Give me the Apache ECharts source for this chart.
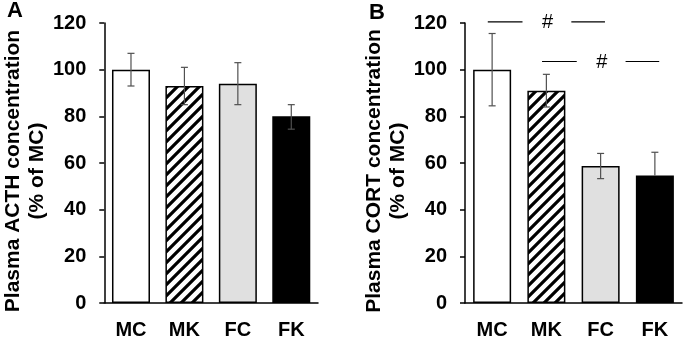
<!DOCTYPE html>
<html><head><meta charset="utf-8">
<script src="https://cdn.jsdelivr.net/npm/echarts@6/dist/echarts.min.js"></script>
<style>html,body{margin:0;padding:0;background:#fff}#c{width:685px;height:340px}</style>
</head><body><div id="c"></div><script>
// ---- data ----
const categories = ['MC', 'MK', 'FC', 'FK'];
const acthMean = [100, 93, 94, 80];
const acthErrUp = [7, 8, 9, 5];
const acthErrDown = [7, 8, 9, 5.5];
const cortMean = [100, 91, 58.7, 54.6];
const cortErrUp = [15.5, 7, 5.4, 10];
const cortErrDown = [15.5, 7, 5.4, 0];
const yTicks = [0, 20, 40, 60, 80, 100, 120];
const acthTitle = 'Plasma ACTH concentration\n(% of MC)';
const cortTitle = 'Plasma CORT concentration\n(% of MC)';
const panelLetters = ['A', 'B'];
const sigFrom = [0, 1];
const sigTo = [2, 3];
const sigLevel = [120.5, 103.5];
const sigLabel = ['#', '#'];

// ---- styles ----
const FONT = '"Liberation Sans", Arial, sans-serif';
function hatchCanvas() {
  const n = 11;
  const c = document.createElement('canvas');
  c.width = n; c.height = n;
  const g = c.getContext('2d');
  g.fillStyle = '#fff'; g.fillRect(0, 0, n, n);
  g.strokeStyle = '#000'; g.lineWidth = 3.2;
  g.beginPath();
  g.moveTo(-1, n + 1); g.lineTo(n + 1, -1);
  g.moveTo(-n / 2 - 1, n / 2 + 1); g.lineTo(n / 2 + 1, -n / 2 - 1);
  g.moveTo(n / 2 - 1, 1.5 * n + 1); g.lineTo(1.5 * n + 1, n / 2 - 1);
  g.stroke();
  return c;
}
const barFills = ['#ffffff', { image: hatchCanvas(), repeat: 'repeat' }, '#e0e0e0', '#000000'];

function barSeries(idx, values) {
  return {
    type: 'bar', xAxisIndex: idx, yAxisIndex: idx, barWidth: 38,
    data: values.map((v, i) => ({
      value: v,
      itemStyle: { color: barFills[i], borderColor: '#000', borderWidth: 1.5 }
    })),
    z: 2
  };
}
function errSeries(idx, mean, up, down) {
  return {
    type: 'custom', xAxisIndex: idx, yAxisIndex: idx, z: 5,
    data: mean.map((m, i) => [i, m - down[i], m + up[i], m]),
    renderItem(params, api) {
      const x = api.value(0);
      const lo = api.coord([x, api.value(1)]);
      const hi = api.coord([x, api.value(2)]);
      const mid = api.coord([x, api.value(3)]);
      const w = 3.5;
      const st = { stroke: '#505050', lineWidth: 1.2 };
      const ch = [
        { type: 'line', shape: { x1: hi[0], y1: hi[1], x2: mid[0], y2: mid[1] }, style: st },
        { type: 'line', shape: { x1: hi[0] - w, y1: hi[1], x2: hi[0] + w, y2: hi[1] }, style: st }
      ];
      if (api.value(1) < api.value(3)) {
        ch.push({ type: 'line', shape: { x1: mid[0], y1: mid[1], x2: lo[0], y2: lo[1] }, style: st });
        ch.push({ type: 'line', shape: { x1: lo[0] - w, y1: lo[1], x2: lo[0] + w, y2: lo[1] }, style: st });
      }
      return { type: 'group', children: ch };
    }
  };
}
function sigSeries(idx) {
  return {
    type: 'custom', xAxisIndex: idx, yAxisIndex: idx, z: 6, clip: false,
    data: sigFrom.map((f, i) => [f, sigTo[i], sigLevel[i]]),
    renderItem(params, api) {
      const y = api.value(2);
      const p0 = api.coord([api.value(0), y]);
      const p1 = api.coord([api.value(1), y]);
      const s = p1[0] - p0[0];
      const X = f => p0[0] + f * s;
      const st = { stroke: '#000', lineWidth: 1.2 };
      return {
        type: 'group', children: [
          { type: 'line', shape: { x1: X(-0.04), y1: p0[1], x2: X(0.28), y2: p0[1] }, style: st },
          { type: 'line', shape: { x1: X(0.73), y1: p0[1], x2: X(1.04), y2: p0[1] }, style: st },
          { type: 'text', style: { text: sigLabel[params.dataIndex], x: X(0.51), y: p0[1] + 1, textAlign: 'center', textVerticalAlign: 'middle', font: '20px ' + FONT, fill: '#000' } }
        ]
      };
    }
  };
}
const axisLabelStyle = { color: '#000', fontWeight: 'bold', fontSize: 20, fontFamily: FONT };
function xAx(idx) {
  return {
    type: 'category', gridIndex: idx, data: categories,
    axisLine: { lineStyle: { color: '#000', width: 1.5 } },
    axisTick: { show: false },
    axisLabel: Object.assign({ margin: 17 }, axisLabelStyle)
  };
}
function yAx(idx, title, gap) {
  return {
    type: 'value', gridIndex: idx, min: yTicks[0], max: yTicks[yTicks.length - 1], interval: yTicks[1] - yTicks[0],
    axisLine: { show: true, lineStyle: { color: '#000', width: 1.5 } },
    axisTick: { show: true, length: 5, lineStyle: { color: '#000', width: 1.5 } },
    splitLine: { show: false },
    axisLabel: Object.assign({ margin: 18 }, axisLabelStyle),
    name: title, nameLocation: 'middle', nameGap: gap,
    nameTextStyle: { color: '#000', fontWeight: 'bold', fontSize: 21, fontFamily: FONT, lineHeight: 24, padding: [0, 16, 0, 0] }
  };
}

const chart = echarts.init(document.getElementById('c'), null, { renderer: 'canvas' });
chart.setOption({
  animation: false,
  backgroundColor: '#fff',
  grid: [
    { left: 100, top: 23, width: 218, height: 282 },
    { left: 465, top: 23, width: 217, height: 282 }
  ],
  xAxis: [xAx(0), xAx(1)],
  yAxis: [yAx(0, acthTitle, 45), yAx(1, cortTitle, 50)],
  title: [
    { text: panelLetters[0], left: 2, top: -5, textStyle: { fontSize: 22, fontWeight: 'bold', fontFamily: FONT, color: '#000' } },
    { text: panelLetters[1], left: 364, top: -3, textStyle: { fontSize: 22, fontWeight: 'bold', fontFamily: FONT, color: '#000' } }
  ],
  series: [
    barSeries(0, acthMean), errSeries(0, acthMean, acthErrUp, acthErrDown),
    barSeries(1, cortMean), errSeries(1, cortMean, cortErrUp, cortErrDown),
    sigSeries(1)
  ]
});
</script></body></html>
